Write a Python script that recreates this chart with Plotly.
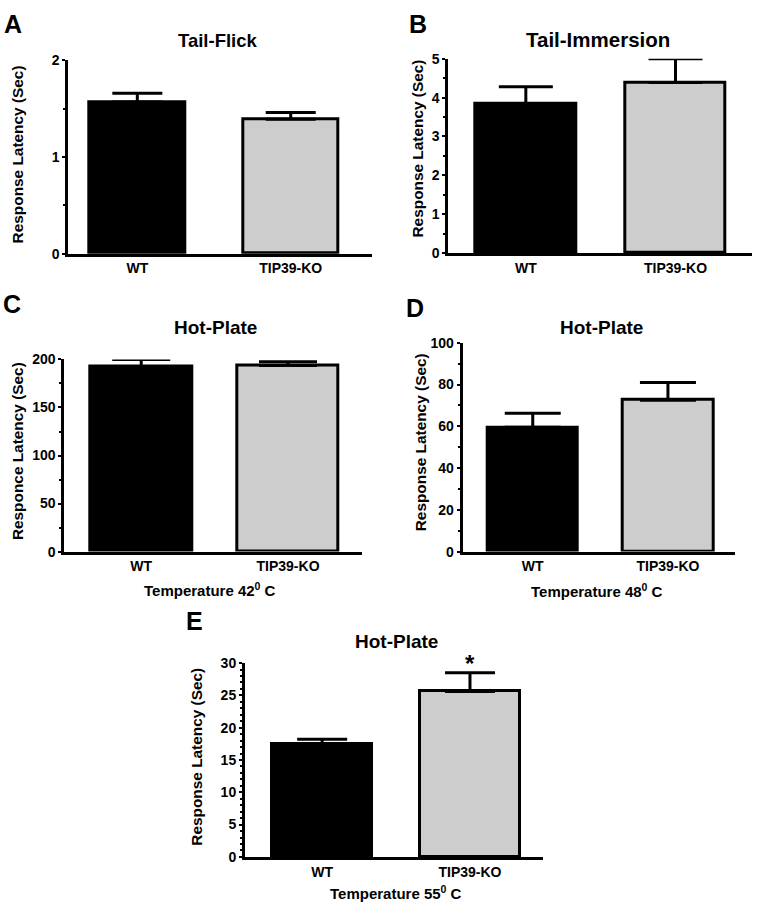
import plotly.graph_objects as go

W, H = 758, 915

categories = ["WT", "TIP39-KO"]

# values (mean, upper error)
a_vals = [1.57, 1.39]
a_errs = [0.09, 0.07]
b_vals = [3.84, 4.39]
b_errs = [0.44, 0.61]
c_vals = [192.5, 193.6]
c_errs = [7.5, 4.0]
d_vals = [59.5, 72.5]
d_errs = [6.8, 8.5]
e_vals = [17.4, 25.6]
e_errs = [0.8, 2.9]

titles = ["Tail-Flick", "Tail-Immersion", "Hot-Plate", "Hot-Plate", "Hot-Plate"]
ylabels = ["Response Latency (Sec)", "Response Latency (Sec)", "Responce Latency (Sec)",
           "Response Latency (Sec)", "Response Latency (Sec)"]
letters = ["A", "B", "C", "D", "E"]
temps = [None, None, "Temperature 42<sup>0</sup> C", "Temperature 48<sup>0</sup> C",
         "Temperature 55<sup>0</sup> C"]
y_ranges = [(0, 2), (0, 5), (0, 200), (0, 100), (0, 30)]
y_dticks = [1, 1, 50, 20, 5]
y_minor = [0.5, 0.5, 25, 10, 1]

colors = ["#000000", "#cdcdcd"]
FONT = "Liberation Sans, Arial, sans-serif"

# plot-area boxes in pixels: left, right, top, bottom
boxes = [
    (68.3, 372.0, 53.3, 250.0),
    (448.3, 751.7, 51.7, 249.3),
    (64.3, 361.7, 357.7, 553.3),
    (462.7, 735.0, 340.7, 553.3),
    (245.0, 543.0, 666.7, 864.0),
]
x_ranges = [(-0.45, 1.53), (-0.518, 1.509), (-0.524, 1.502), (-0.518, 1.496), (-0.522, 1.494)]
bar_widths = [0.62, 0.67, 0.69, 0.67, 0.68]
cap_widths = [25, 27, 29, 28, 25]
title_pos = [(218, 33), (598, 32), (215, 325), (601, 325), (396, 645)]
title_sizes = [18.5, 20.5, 19, 19, 19]
ylab_pos = [(17, 149), (417, 143), (17, 451), (420, 442), (197, 762)]
letter_pos = [(13, 16), (418, 16), (12, 301), (415, 305), (194, 624)]
temp_pos = [None, None, (210, 592), (597, 593), (396, 900)]

vals_all = [a_vals, b_vals, c_vals, d_vals, e_vals]
errs_all = [a_errs, b_errs, c_errs, d_errs, e_errs]


def fx(x):
    return x / W


def fy(y):
    return 1 - y / H


fig = go.Figure()
annotations = []

for i in range(5):
    n = "" if i == 0 else str(i + 1)
    xa, ya = "x" + n, "y" + n
    fig.add_trace(go.Bar(
        x=categories, y=vals_all[i], xaxis=xa, yaxis=ya,
        width=bar_widths[i],
        marker=dict(color=colors, line=dict(color="black", width=3)),
        error_y=dict(type="data", symmetric=False, array=errs_all[i],
                     arrayminus=[0] * len(errs_all[i]),
                     color="black", thickness=3, width=cap_widths[i]),
        showlegend=False,
    ))
    l, r, t, b = boxes[i]
    fig.layout["xaxis" + n] = dict(
        domain=[fx(l), fx(r)], anchor=ya, range=list(x_ranges[i]),
        showline=True, linecolor="black", linewidth=3, ticks="",
        showgrid=False, zeroline=False,
        tickfont=dict(family=FONT, size=14, color="black", weight="bold"),
        type="category",
    )
    fig.layout["yaxis" + n] = dict(
        domain=[fy(b), fy(t)], anchor=xa, range=list(y_ranges[i]),
        showline=True, linecolor="black", linewidth=3,
        ticks="outside", ticklen=3, tickwidth=2, tickcolor="black",
        dtick=y_dticks[i], tick0=0,
        minor=dict(ticks="outside", ticklen=2, tickwidth=2, tickcolor="black",
                   dtick=y_minor[i], showgrid=False),
        showgrid=False, zeroline=False,
        tickfont=dict(family=FONT, size=14, color="black", weight="bold"),
    )
    annotations.append(dict(
        text=titles[i], x=fx(title_pos[i][0]), y=fy(title_pos[i][1]),
        xref="paper", yref="paper", showarrow=False,
        xanchor="center", yanchor="middle",
        font=dict(family=FONT, size=title_sizes[i], color="black", weight="bold"),
    ))
    annotations.append(dict(
        text=ylabels[i], x=fx(ylab_pos[i][0]), y=fy(ylab_pos[i][1]),
        xref="paper", yref="paper", showarrow=False, textangle=-90,
        xanchor="center", yanchor="middle",
        font=dict(family=FONT, size=15.4, color="black", weight="bold"),
    ))
    annotations.append(dict(
        text=letters[i], x=fx(letter_pos[i][0]), y=fy(letter_pos[i][1]),
        xref="paper", yref="paper", showarrow=False,
        xanchor="center", yanchor="middle",
        font=dict(family=FONT, size=25, color="black", weight="bold"),
    ))
    if temps[i]:
        annotations.append(dict(
            text=temps[i], x=fx(temp_pos[i][0]), y=fy(temp_pos[i][1]),
            xref="paper", yref="paper", showarrow=False,
            xanchor="center", yanchor="middle",
            font=dict(family=FONT, size=15, color="black", weight="bold"),
        ))

# significance star above the TIP39-KO bar of panel E
annotations.append(dict(
    text="*", x=categories[1], y=e_vals[1] + e_errs[1], xref="x5", yref="y5",
    showarrow=False, xanchor="center", yanchor="bottom", yshift=-6,
    font=dict(family=FONT, size=24, color="black", weight="bold"),
))

fig.update_layout(
    width=W, height=H, margin=dict(l=0, r=0, t=0, b=0),
    paper_bgcolor="white", plot_bgcolor="white",
    annotations=annotations, bargap=0,
)

fig.write_html(
    "out.html", config={"displayModeBar": False},
    post_script=("document.documentElement.style.margin='0';"
                 "document.body.style.margin='0';document.body.style.overflow='hidden';"
                 "var d=document.getElementsByClassName('plotly-graph-div')[0];"
                 "d.style.position='fixed';d.style.top='0px';d.style.left='0px';"),
)
